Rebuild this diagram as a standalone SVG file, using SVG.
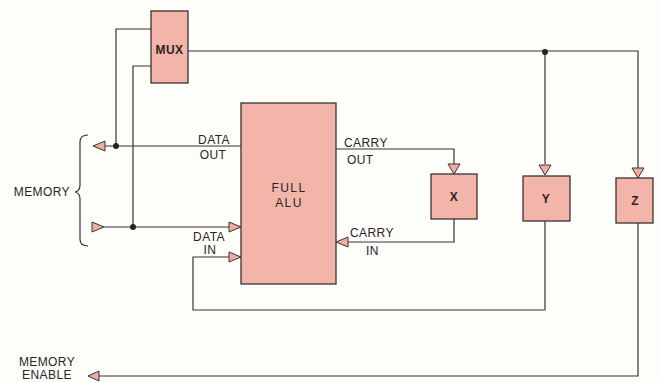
<svg xmlns="http://www.w3.org/2000/svg" width="660" height="382" viewBox="0 0 660 382">
<style>
.box{fill:#f3b4aa;stroke:#3a3232;stroke-width:1.3}
.ln{fill:none;stroke:#3a3232;stroke-width:1.2}
.ar{fill:#f0aca2;stroke:#3a3232;stroke-width:1}
.dot{fill:#2a2222}
text{font-family:"Liberation Sans",Arial,sans-serif;font-size:12px;fill:#2a2424;letter-spacing:0.4px}
.c{text-anchor:middle}
.b{font-weight:bold}
.sp{letter-spacing:1.4px}
</style>
<rect width="660" height="382" fill="#fdfdf9"/>
<g id="connectors">
<path class="ln" d="M151,29 H116 V146"/>
<path class="ln" d="M151,66 H133 V227"/>
<path class="ln" d="M241,146 H104"/>
<path class="ln" d="M104,227 H229"/>
<path class="ln" d="M545,221 V310 H193 V257 H229"/>
<path class="ln" d="M188,51 H638 V168"/>
<path class="ln" d="M545,52 V164"/>
<path class="ln" d="M336,149 H454 V164"/>
<path class="ln" d="M454,219 V242 H348"/>
<path class="ln" d="M638,223 V376 H99"/>
<circle class="dot" cx="116" cy="146" r="3"/>
<circle class="dot" cx="133" cy="227" r="3"/>
<circle class="dot" cx="545" cy="52" r="3"/>
<polygon class="ar" points="93,146 105,141 105,151"/>
<polygon class="ar" points="92,222 104,227 92,232"/>
<polygon class="ar" points="229,222 241,227 229,232"/>
<polygon class="ar" points="229,252 241,257 229,262"/>
<polygon class="ar" points="448,164 460,164 454,174"/>
<polygon class="ar" points="539,165 551,165 545,175"/>
<polygon class="ar" points="632,168 644,168 638,178"/>
<polygon class="ar" points="336,242 348,237 348,247"/>
<polygon class="ar" points="88,376 99,371 99,381"/>
<path class="ln" d="M88,135 Q80,135 80,142 V185 Q80,191 75,192 Q80,193 80,199 V239 Q80,246 88,246"/>
</g>
<g id="mux"><rect class="box" x="151" y="11" width="37" height="72"/><text class="c b" x="169.5" y="54">MUX</text></g>
<g id="alu"><rect class="box" x="241" y="103" width="95" height="181"/><text class="c sp" x="289" y="192">FULL</text><text class="c sp" x="289" y="207">ALU</text></g>
<g id="x"><rect class="box" x="431" y="174" width="46" height="45"/><text class="c b" x="454" y="201">X</text></g>
<g id="y"><rect class="box" x="523" y="176" width="47" height="45"/><text class="c b" x="546" y="203">Y</text></g>
<g id="z"><rect class="box" x="616" y="178" width="37" height="45"/><text class="c b" x="635" y="205">Z</text></g>
<g id="labels">
<text class="c" x="214" y="144">DATA</text>
<text class="c" x="213" y="159">OUT</text>
<text class="c" x="209" y="241">DATA</text>
<text class="c" x="210" y="254">IN</text>
<text x="344" y="147">CARRY</text>
<text x="347" y="164">OUT</text>
<text x="350" y="237">CARRY</text>
<text x="366" y="255">IN</text>
<text x="70" y="196" text-anchor="end" letter-spacing="0.8">MEMORY</text>
<text class="c" x="47" y="366" letter-spacing="0.8">MEMORY</text>
<text class="c" x="47" y="379" letter-spacing="0.8">ENABLE</text>
</g>
</svg>
